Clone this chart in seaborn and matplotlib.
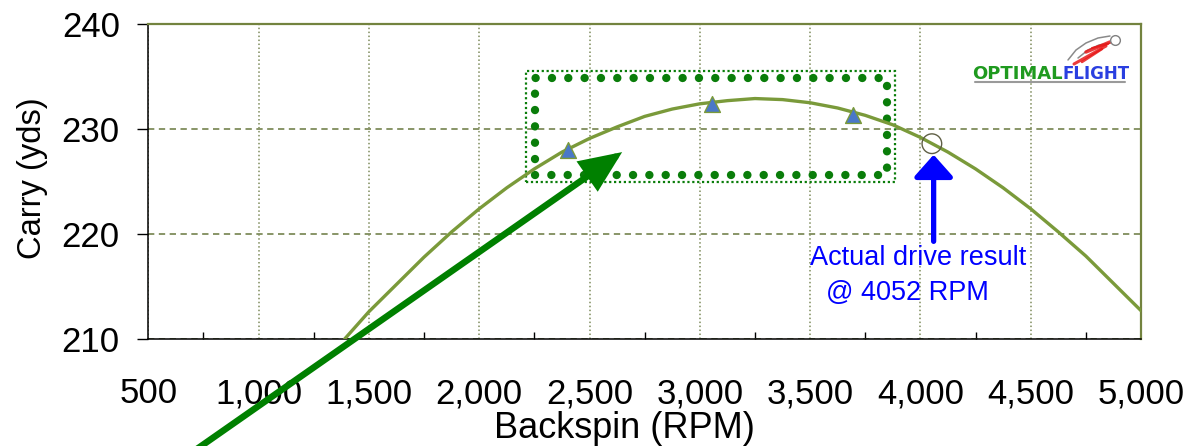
import matplotlib
matplotlib.use("Agg")
import matplotlib.pyplot as plt
import seaborn as sns
import pandas as pd
from matplotlib.ticker import MultipleLocator, FuncFormatter
from matplotlib.patches import Rectangle, FancyArrowPatch
from matplotlib.lines import Line2D

# ---------------- data ----------------
curve_rpm = [1390, 1500, 1625, 1750, 1875, 2000, 2125, 2250, 2375, 2500,
             2625, 2750, 2875, 3000, 3125, 3250, 3375, 3500, 3625, 3750,
             3875, 4000, 4125, 4250, 4375, 4500, 4625, 4750, 4875, 5000]
curve_carry = [210.0, 212.6, 215.2, 217.8, 220.2, 222.4, 224.4, 226.2, 227.8, 229.1,
               230.2, 231.2, 231.9, 232.4, 232.7, 232.9, 232.8, 232.5, 232.0, 231.3,
               230.4, 229.2, 227.8, 226.2, 224.4, 222.4, 220.2, 217.9, 215.3, 212.7]
test_rpm = [2403, 3055, 3696]
test_carry = [228.0, 232.4, 231.3]
actual_rpm = [4052]
actual_carry = [228.6]
x_ticks = [500, 1000, 1500, 2000, 2500, 3000, 3500, 4000, 4500, 5000]
y_ticks = [210, 220, 230, 240]
x_label = "Backspin (RPM)"
y_label = "Carry (yds)"
note_lines = ["Actual drive result", "@ 4052 RPM"]

curve_df = pd.DataFrame({"rpm": curve_rpm, "carry": curve_carry})
test_df = pd.DataFrame({"rpm": test_rpm, "carry": test_carry})
actual_df = pd.DataFrame({"rpm": actual_rpm, "carry": actual_carry})

sns.set_theme(style="white")
plt.rcParams["font.family"] = ["Liberation Sans", "DejaVu Sans"]

W, H = 1195, 446
fig = plt.figure(figsize=(W / 100, H / 100), dpi=100)
ax = fig.add_axes([148.3 / W, 1 - 339 / H, (1141 - 148.3) / W, (339 - 24) / H])

CURVE = "#7a9a3a"
GRID = "#7f8c5c"
GREEN = "#0a7d0a"

sns.lineplot(data=curve_df, x="rpm", y="carry", ax=ax, color=CURVE, lw=2.4,
             zorder=4, legend=False)
sns.scatterplot(data=test_df, x="rpm", y="carry", ax=ax, marker="^", s=130,
                color="#4a78c8", edgecolor=CURVE, linewidth=1, zorder=5,
                legend=False)
sns.scatterplot(data=actual_df, x="rpm", y="carry", ax=ax, marker="o", s=200,
                facecolor="none", edgecolor="#5f5f45", linewidth=1, zorder=5,
                legend=False)

ax.set_xlim(x_ticks[0], x_ticks[-1])
ax.set_ylim(y_ticks[0], y_ticks[-1])
ax.set_xticks(x_ticks)
ax.set_yticks(y_ticks)
ax.xaxis.set_minor_locator(MultipleLocator(250))
ax.xaxis.set_major_formatter(FuncFormatter(lambda v, p: f"{int(v):,}"))

ax.xaxis.grid(True, which="major", color=GRID, lw=1.1, ls=(0, (1, 1.6)))
ax.yaxis.grid(True, which="major", color=GRID, lw=1.3, ls=(0, (3.5, 2.5)))
ax.set_axisbelow(True)

ax.tick_params(axis="x", which="major", direction="inout", length=16, width=1,
               color="black", pad=19.5, labelsize=25, labelcolor="black")
ax.tick_params(axis="x", which="minor", direction="in", length=5, width=1,
               color="black", bottom=True)
ax.tick_params(axis="y", which="major", direction="out", length=8, width=1,
               color="black", pad=12.5, labelsize=25, labelcolor="black", left=True)

for s in ["left", "bottom"]:
    ax.spines[s].set_color("black")
    ax.spines[s].set_linewidth(1.1)
for s in ["top", "right"]:
    ax.spines[s].set_color("#73833f")
    ax.spines[s].set_linewidth(1.6)

ax.set_xlabel(x_label, fontsize=26, color="black")
ax.set_ylabel(y_label, fontsize=23.5, color="black")
ax.xaxis.label.set_va("center")
ax.yaxis.label.set_va("center")
ax.xaxis.set_label_coords(0.480, -0.285)
ax.yaxis.set_label_coords(-0.117, 0.51)

# highlight box (dotted)
outer = Rectangle((2213, 224.91), 3886 - 2213, 235.49 - 224.91, fill=False,
                  ec=GREEN, lw=1.6, ls=(0, (1, 1.2)), zorder=3)
ax.add_patch(outer)
inner = Rectangle((2251, 225.65), 3849 - 2251, 234.86 - 225.65, fill=False,
                  ec=GREEN, lw=6.0, ls=(0, (0.01, 1.95)), zorder=3)
inner.set_capstyle("round")
ax.add_patch(inner)

# big green arrow
garrow = FancyArrowPatch(posA=(712, 199.4), posB=(2648, 227.8),
                         arrowstyle="-|>,head_length=1.5,head_width=0.65",
                         mutation_scale=15, lw=4.7, color="#008000",
                         shrinkA=0, shrinkB=0, zorder=6, joinstyle="miter")
ax.add_patch(garrow)
garrow.set_clip_on(False)

# blue arrow
barrow = FancyArrowPatch(posA=(4060, 219.3), posB=(4060, 227.55),
                         arrowstyle="-|>,head_length=0.9,head_width=0.8",
                         mutation_scale=15, lw=3.8, color="#0000ff",
                         shrinkA=0, shrinkB=0, zorder=6)
ax.add_patch(barrow)

ax.text(3988, 217.74, note_lines[0], color="#0000ff", fontsize=19.5,
        ha="center", va="center", zorder=7)
ax.text(3941, 214.41, note_lines[1], color="#0000ff", fontsize=19.5,
        ha="center", va="center", zorder=7)

# logo
def fp(x, y):
    return (x / W, 1 - y / H)

fig.text(*fp(1063, 74), "OPTIMAL", color="#1f9a1f", fontsize=13,
         fontweight="bold", family="DejaVu Sans", ha="right", va="center")
fig.text(*fp(1063, 74), "FLIGHT", color="#2a3fe0", fontsize=12,
         fontweight="bold", family="DejaVu Sans", ha="left", va="center")
fig.add_artist(Line2D([975 / W, 1125 / W], [1 - 82 / H, 1 - 82 / H],
                      color="#9a9a9a", lw=1.5, transform=fig.transFigure))
for arc_x, arc_y in [([1068, 1076, 1086, 1098, 1110], [60, 50, 43, 38, 36]),
                     ([1078, 1088, 1099, 1110], [58, 50, 45, 43])]:
    fig.add_artist(Line2D([x / W for x in arc_x], [1 - y / H for y in arc_y],
                          color="#8a8a8a", lw=1.1, transform=fig.transFigure))
for (x0, y0, x1, y1, lw) in [(1110, 42, 1086, 52, 2.5), (1106, 46, 1074, 64, 2.2),
                             (1102, 49, 1082, 62, 1.8), (1108, 44, 1092, 48, 1.5)]:
    fig.add_artist(Line2D([x0 / W, x1 / W], [1 - y0 / H, 1 - y1 / H],
                          color="#e81818", lw=lw, alpha=0.85,
                          transform=fig.transFigure, solid_capstyle="round"))
fig.add_artist(Line2D([1115 / W], [1 - 40 / H], marker="o", ms=7,
                      mfc="white", mec="#808080", mew=1,
                      transform=fig.transFigure))

fig.savefig("out.png", dpi=100)
